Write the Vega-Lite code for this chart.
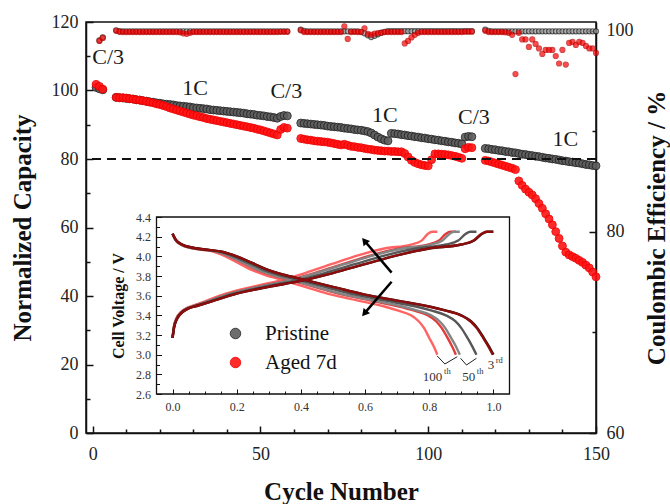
{
"$schema": "https://vega.github.io/schema/vega-lite/v6.json",
"width": 510, "height": 411,
"autosize": "none",
"padding": {"left": 86, "top": 22, "right": 74, "bottom": 71},
"config": {
 "font": "Liberation Serif",
 "view": {"stroke": "#111", "strokeWidth": 1.5},
 "axis": {"labelFont": "Liberation Serif", "titleFont": "Liberation Serif", "labelColor": "#222", "titleColor": "#111", "domainColor": "#111", "tickColor": "#111", "grid": false, "labelFlush": false, "labelOverlap": false}
},
"datasets": {
 "cap": [
{"c":1,"v":100.9,"s":"Pristine"},{"c":2,"v":100.5,"s":"Pristine"},{"c":3,"v":100.2,"s":"Pristine"},
{"c":7,"v":98.0,"s":"Pristine"},{"c":8,"v":97.9,"s":"Pristine"},{"c":9,"v":97.8,"s":"Pristine"},{"c":10,"v":97.7,"s":"Pristine"},{"c":11,"v":97.6,"s":"Pristine"},{"c":12,"v":97.5,"s":"Pristine"},{"c":13,"v":97.3,"s":"Pristine"},{"c":14,"v":97.2,"s":"Pristine"},{"c":15,"v":97.0,"s":"Pristine"},{"c":16,"v":96.9,"s":"Pristine"},{"c":17,"v":96.7,"s":"Pristine"},{"c":18,"v":96.6,"s":"Pristine"},{"c":19,"v":96.4,"s":"Pristine"},{"c":20,"v":96.3,"s":"Pristine"},{"c":21,"v":96.1,"s":"Pristine"},{"c":22,"v":96.0,"s":"Pristine"},{"c":23,"v":95.9,"s":"Pristine"},{"c":24,"v":95.8,"s":"Pristine"},{"c":25,"v":95.6,"s":"Pristine"},{"c":26,"v":95.5,"s":"Pristine"},{"c":27,"v":95.4,"s":"Pristine"},{"c":28,"v":95.3,"s":"Pristine"},{"c":29,"v":95.2,"s":"Pristine"},{"c":30,"v":95.0,"s":"Pristine"},{"c":31,"v":94.9,"s":"Pristine"},{"c":32,"v":94.8,"s":"Pristine"},{"c":33,"v":94.7,"s":"Pristine"},{"c":34,"v":94.6,"s":"Pristine"},{"c":35,"v":94.4,"s":"Pristine"},{"c":36,"v":94.3,"s":"Pristine"},{"c":37,"v":94.2,"s":"Pristine"},{"c":38,"v":94.1,"s":"Pristine"},{"c":39,"v":94.0,"s":"Pristine"},{"c":40,"v":93.9,"s":"Pristine"},{"c":41,"v":93.8,"s":"Pristine"},{"c":42,"v":93.7,"s":"Pristine"},{"c":43,"v":93.6,"s":"Pristine"},{"c":44,"v":93.5,"s":"Pristine"},{"c":45,"v":93.4,"s":"Pristine"},{"c":46,"v":93.2,"s":"Pristine"},{"c":47,"v":93.1,"s":"Pristine"},{"c":48,"v":93.0,"s":"Pristine"},{"c":49,"v":92.8,"s":"Pristine"},{"c":50,"v":92.7,"s":"Pristine"},{"c":51,"v":92.6,"s":"Pristine"},{"c":52,"v":92.4,"s":"Pristine"},{"c":53,"v":92.3,"s":"Pristine"},{"c":54,"v":92.1,"s":"Pristine"},{"c":55,"v":91.9,"s":"Pristine"},
{"c":56,"v":92.4,"s":"Pristine"},{"c":57,"v":92.7,"s":"Pristine"},{"c":58,"v":92.6,"s":"Pristine"},
{"c":62,"v":90.5,"s":"Pristine"},{"c":63,"v":90.4,"s":"Pristine"},{"c":64,"v":90.3,"s":"Pristine"},{"c":65,"v":90.2,"s":"Pristine"},{"c":66,"v":90.1,"s":"Pristine"},{"c":67,"v":90.0,"s":"Pristine"},{"c":68,"v":89.9,"s":"Pristine"},{"c":69,"v":89.8,"s":"Pristine"},{"c":70,"v":89.6,"s":"Pristine"},{"c":71,"v":89.5,"s":"Pristine"},{"c":72,"v":89.4,"s":"Pristine"},{"c":73,"v":89.3,"s":"Pristine"},{"c":74,"v":89.2,"s":"Pristine"},{"c":75,"v":89.0,"s":"Pristine"},{"c":76,"v":88.9,"s":"Pristine"},{"c":77,"v":88.8,"s":"Pristine"},{"c":78,"v":88.6,"s":"Pristine"},{"c":79,"v":88.5,"s":"Pristine"},{"c":80,"v":88.4,"s":"Pristine"},{"c":81,"v":88.2,"s":"Pristine"},{"c":82,"v":88.0,"s":"Pristine"},{"c":83,"v":87.6,"s":"Pristine"},{"c":84,"v":87.0,"s":"Pristine"},{"c":85,"v":86.4,"s":"Pristine"},{"c":86,"v":85.9,"s":"Pristine"},{"c":87,"v":85.5,"s":"Pristine"},{"c":88,"v":85.3,"s":"Pristine"},{"c":89,"v":87.5,"s":"Pristine"},{"c":90,"v":87.4,"s":"Pristine"},{"c":91,"v":87.3,"s":"Pristine"},{"c":92,"v":87.1,"s":"Pristine"},{"c":93,"v":87.0,"s":"Pristine"},{"c":94,"v":86.8,"s":"Pristine"},{"c":95,"v":86.7,"s":"Pristine"},{"c":96,"v":86.5,"s":"Pristine"},{"c":97,"v":86.4,"s":"Pristine"},{"c":98,"v":86.2,"s":"Pristine"},{"c":99,"v":86.1,"s":"Pristine"},{"c":100,"v":85.9,"s":"Pristine"},{"c":101,"v":85.8,"s":"Pristine"},{"c":102,"v":85.6,"s":"Pristine"},{"c":103,"v":85.5,"s":"Pristine"},{"c":104,"v":85.3,"s":"Pristine"},{"c":105,"v":85.2,"s":"Pristine"},{"c":106,"v":85.0,"s":"Pristine"},{"c":107,"v":84.9,"s":"Pristine"},{"c":108,"v":84.7,"s":"Pristine"},{"c":109,"v":84.6,"s":"Pristine"},{"c":110,"v":84.4,"s":"Pristine"},
{"c":111,"v":86.4,"s":"Pristine"},{"c":112,"v":86.6,"s":"Pristine"},{"c":113,"v":86.5,"s":"Pristine"},
{"c":117,"v":83.1,"s":"Pristine"},{"c":118,"v":83.0,"s":"Pristine"},{"c":119,"v":82.8,"s":"Pristine"},{"c":120,"v":82.7,"s":"Pristine"},{"c":121,"v":82.5,"s":"Pristine"},{"c":122,"v":82.4,"s":"Pristine"},{"c":123,"v":82.2,"s":"Pristine"},{"c":124,"v":82.1,"s":"Pristine"},{"c":125,"v":81.9,"s":"Pristine"},{"c":126,"v":81.8,"s":"Pristine"},{"c":127,"v":81.6,"s":"Pristine"},{"c":128,"v":81.4,"s":"Pristine"},{"c":129,"v":81.3,"s":"Pristine"},{"c":130,"v":81.1,"s":"Pristine"},{"c":131,"v":81.0,"s":"Pristine"},{"c":132,"v":80.8,"s":"Pristine"},{"c":133,"v":80.7,"s":"Pristine"},{"c":134,"v":80.5,"s":"Pristine"},{"c":135,"v":80.3,"s":"Pristine"},{"c":136,"v":80.2,"s":"Pristine"},{"c":137,"v":80.0,"s":"Pristine"},{"c":138,"v":79.9,"s":"Pristine"},{"c":139,"v":79.7,"s":"Pristine"},{"c":140,"v":79.5,"s":"Pristine"},{"c":141,"v":79.4,"s":"Pristine"},{"c":142,"v":79.2,"s":"Pristine"},{"c":143,"v":79.1,"s":"Pristine"},{"c":144,"v":78.9,"s":"Pristine"},{"c":145,"v":78.8,"s":"Pristine"},{"c":146,"v":78.6,"s":"Pristine"},{"c":147,"v":78.4,"s":"Pristine"},{"c":148,"v":78.3,"s":"Pristine"},{"c":149,"v":78.1,"s":"Pristine"},{"c":150,"v":78.0,"s":"Pristine"},
{"c":1,"v":101.8,"s":"Aged 7d"},{"c":2,"v":101.2,"s":"Aged 7d"},{"c":3,"v":100.4,"s":"Aged 7d"},
{"c":7,"v":98.0,"s":"Aged 7d"},{"c":8,"v":97.9,"s":"Aged 7d"},{"c":9,"v":97.9,"s":"Aged 7d"},{"c":10,"v":97.8,"s":"Aged 7d"},{"c":11,"v":97.6,"s":"Aged 7d"},{"c":12,"v":97.5,"s":"Aged 7d"},{"c":13,"v":97.3,"s":"Aged 7d"},{"c":14,"v":97.2,"s":"Aged 7d"},{"c":15,"v":97.0,"s":"Aged 7d"},{"c":16,"v":96.8,"s":"Aged 7d"},{"c":17,"v":96.6,"s":"Aged 7d"},{"c":18,"v":96.4,"s":"Aged 7d"},{"c":19,"v":96.1,"s":"Aged 7d"},{"c":20,"v":95.9,"s":"Aged 7d"},{"c":21,"v":95.6,"s":"Aged 7d"},{"c":22,"v":95.3,"s":"Aged 7d"},{"c":23,"v":94.9,"s":"Aged 7d"},{"c":24,"v":94.6,"s":"Aged 7d"},{"c":25,"v":94.3,"s":"Aged 7d"},{"c":26,"v":94.0,"s":"Aged 7d"},{"c":27,"v":93.7,"s":"Aged 7d"},{"c":28,"v":93.4,"s":"Aged 7d"},{"c":29,"v":93.1,"s":"Aged 7d"},{"c":30,"v":92.8,"s":"Aged 7d"},{"c":31,"v":92.6,"s":"Aged 7d"},{"c":32,"v":92.3,"s":"Aged 7d"},{"c":33,"v":92.1,"s":"Aged 7d"},{"c":34,"v":91.8,"s":"Aged 7d"},{"c":35,"v":91.6,"s":"Aged 7d"},{"c":36,"v":91.4,"s":"Aged 7d"},{"c":37,"v":91.2,"s":"Aged 7d"},{"c":38,"v":91.0,"s":"Aged 7d"},{"c":39,"v":90.8,"s":"Aged 7d"},{"c":40,"v":90.6,"s":"Aged 7d"},{"c":41,"v":90.4,"s":"Aged 7d"},{"c":42,"v":90.2,"s":"Aged 7d"},{"c":43,"v":90.0,"s":"Aged 7d"},{"c":44,"v":89.8,"s":"Aged 7d"},{"c":45,"v":89.6,"s":"Aged 7d"},{"c":46,"v":89.4,"s":"Aged 7d"},{"c":47,"v":89.2,"s":"Aged 7d"},{"c":48,"v":89.0,"s":"Aged 7d"},{"c":49,"v":88.7,"s":"Aged 7d"},{"c":50,"v":88.5,"s":"Aged 7d"},{"c":51,"v":88.2,"s":"Aged 7d"},{"c":52,"v":87.9,"s":"Aged 7d"},{"c":53,"v":87.6,"s":"Aged 7d"},{"c":54,"v":87.3,"s":"Aged 7d"},{"c":55,"v":87.0,"s":"Aged 7d"},
{"c":56,"v":88.6,"s":"Aged 7d"},{"c":57,"v":89.2,"s":"Aged 7d"},{"c":58,"v":89.0,"s":"Aged 7d"},
{"c":62,"v":86.0,"s":"Aged 7d"},{"c":63,"v":85.8,"s":"Aged 7d"},{"c":64,"v":85.6,"s":"Aged 7d"},{"c":65,"v":85.5,"s":"Aged 7d"},{"c":66,"v":85.3,"s":"Aged 7d"},{"c":67,"v":85.2,"s":"Aged 7d"},{"c":68,"v":85.1,"s":"Aged 7d"},{"c":69,"v":85.0,"s":"Aged 7d"},{"c":70,"v":84.9,"s":"Aged 7d"},{"c":71,"v":84.7,"s":"Aged 7d"},{"c":72,"v":84.5,"s":"Aged 7d"},{"c":73,"v":84.3,"s":"Aged 7d"},{"c":74,"v":84.1,"s":"Aged 7d"},{"c":75,"v":84.3,"s":"Aged 7d"},{"c":76,"v":84.0,"s":"Aged 7d"},{"c":77,"v":83.7,"s":"Aged 7d"},{"c":78,"v":83.6,"s":"Aged 7d"},{"c":79,"v":83.4,"s":"Aged 7d"},{"c":80,"v":83.3,"s":"Aged 7d"},{"c":81,"v":83.1,"s":"Aged 7d"},{"c":82,"v":82.9,"s":"Aged 7d"},{"c":83,"v":82.8,"s":"Aged 7d"},{"c":84,"v":82.6,"s":"Aged 7d"},{"c":85,"v":82.5,"s":"Aged 7d"},{"c":86,"v":82.4,"s":"Aged 7d"},{"c":87,"v":82.3,"s":"Aged 7d"},{"c":88,"v":82.3,"s":"Aged 7d"},{"c":89,"v":82.2,"s":"Aged 7d"},{"c":90,"v":82.2,"s":"Aged 7d"},{"c":91,"v":82.1,"s":"Aged 7d"},{"c":92,"v":82.1,"s":"Aged 7d"},{"c":93,"v":81.6,"s":"Aged 7d"},{"c":94,"v":80.6,"s":"Aged 7d"},{"c":95,"v":79.6,"s":"Aged 7d"},{"c":96,"v":79.0,"s":"Aged 7d"},{"c":97,"v":78.6,"s":"Aged 7d"},{"c":98,"v":78.3,"s":"Aged 7d"},{"c":99,"v":78.1,"s":"Aged 7d"},{"c":100,"v":78.0,"s":"Aged 7d"},{"c":101,"v":79.8,"s":"Aged 7d"},{"c":102,"v":81.5,"s":"Aged 7d"},{"c":103,"v":81.5,"s":"Aged 7d"},{"c":104,"v":81.4,"s":"Aged 7d"},{"c":105,"v":81.3,"s":"Aged 7d"},{"c":106,"v":81.2,"s":"Aged 7d"},{"c":107,"v":81.0,"s":"Aged 7d"},{"c":108,"v":80.8,"s":"Aged 7d"},{"c":109,"v":80.5,"s":"Aged 7d"},{"c":110,"v":80.2,"s":"Aged 7d"},
{"c":111,"v":83.0,"s":"Aged 7d"},{"c":112,"v":83.4,"s":"Aged 7d"},{"c":113,"v":83.3,"s":"Aged 7d"},
{"c":117,"v":79.6,"s":"Aged 7d"},{"c":118,"v":79.4,"s":"Aged 7d"},{"c":119,"v":79.1,"s":"Aged 7d"},{"c":120,"v":78.8,"s":"Aged 7d"},{"c":121,"v":78.5,"s":"Aged 7d"},{"c":122,"v":78.2,"s":"Aged 7d"},{"c":123,"v":77.9,"s":"Aged 7d"},{"c":124,"v":77.6,"s":"Aged 7d"},{"c":125,"v":77.3,"s":"Aged 7d"},{"c":126,"v":76.9,"s":"Aged 7d"},{"c":127,"v":73.6,"s":"Aged 7d"},{"c":128,"v":72.3,"s":"Aged 7d"},{"c":129,"v":71.2,"s":"Aged 7d"},{"c":130,"v":70.3,"s":"Aged 7d"},{"c":131,"v":69.5,"s":"Aged 7d"},{"c":132,"v":68.4,"s":"Aged 7d"},{"c":133,"v":67.0,"s":"Aged 7d"},{"c":134,"v":65.6,"s":"Aged 7d"},{"c":135,"v":64.0,"s":"Aged 7d"},{"c":136,"v":62.5,"s":"Aged 7d"},{"c":137,"v":60.8,"s":"Aged 7d"},{"c":138,"v":58.8,"s":"Aged 7d"},{"c":139,"v":56.8,"s":"Aged 7d"},{"c":140,"v":54.6,"s":"Aged 7d"},{"c":141,"v":52.8,"s":"Aged 7d"},{"c":142,"v":52.0,"s":"Aged 7d"},{"c":143,"v":51.5,"s":"Aged 7d"},{"c":144,"v":51.0,"s":"Aged 7d"},{"c":145,"v":50.4,"s":"Aged 7d"},{"c":146,"v":49.8,"s":"Aged 7d"},{"c":147,"v":49.0,"s":"Aged 7d"},{"c":148,"v":48.2,"s":"Aged 7d"},{"c":149,"v":47.0,"s":"Aged 7d"},{"c":150,"v":45.6,"s":"Aged 7d"}
 ],
 "ce": [
{"c":2,"e":99.05,"s":"Pristine"},{"c":3,"e":99.35,"s":"Pristine"},
{"c":7,"e":100.05,"s":"Pristine"},{"c":8,"e":99.97,"s":"Pristine"},{"c":9,"e":99.95,"s":"Pristine"},{"c":10,"e":99.95,"s":"Pristine"},{"c":11,"e":99.95,"s":"Pristine"},{"c":12,"e":99.95,"s":"Pristine"},{"c":13,"e":99.95,"s":"Pristine"},{"c":14,"e":99.95,"s":"Pristine"},{"c":15,"e":99.95,"s":"Pristine"},{"c":16,"e":99.95,"s":"Pristine"},{"c":17,"e":99.95,"s":"Pristine"},{"c":18,"e":99.95,"s":"Pristine"},{"c":19,"e":99.95,"s":"Pristine"},{"c":20,"e":99.95,"s":"Pristine"},{"c":21,"e":99.95,"s":"Pristine"},{"c":22,"e":99.95,"s":"Pristine"},{"c":23,"e":99.95,"s":"Pristine"},{"c":24,"e":99.95,"s":"Pristine"},{"c":25,"e":99.95,"s":"Pristine"},{"c":26,"e":99.95,"s":"Pristine"},{"c":27,"e":99.95,"s":"Pristine"},{"c":28,"e":99.95,"s":"Pristine"},{"c":29,"e":99.95,"s":"Pristine"},{"c":30,"e":99.95,"s":"Pristine"},{"c":31,"e":99.95,"s":"Pristine"},{"c":32,"e":99.95,"s":"Pristine"},{"c":33,"e":99.95,"s":"Pristine"},{"c":34,"e":99.95,"s":"Pristine"},{"c":35,"e":99.95,"s":"Pristine"},{"c":36,"e":99.95,"s":"Pristine"},{"c":37,"e":99.95,"s":"Pristine"},{"c":38,"e":99.95,"s":"Pristine"},{"c":39,"e":99.95,"s":"Pristine"},{"c":40,"e":99.95,"s":"Pristine"},{"c":41,"e":99.95,"s":"Pristine"},{"c":42,"e":99.95,"s":"Pristine"},{"c":43,"e":99.95,"s":"Pristine"},{"c":44,"e":99.95,"s":"Pristine"},{"c":45,"e":99.95,"s":"Pristine"},{"c":46,"e":99.95,"s":"Pristine"},{"c":47,"e":99.95,"s":"Pristine"},{"c":48,"e":99.95,"s":"Pristine"},{"c":49,"e":99.95,"s":"Pristine"},{"c":50,"e":99.95,"s":"Pristine"},{"c":51,"e":99.95,"s":"Pristine"},{"c":52,"e":99.95,"s":"Pristine"},{"c":53,"e":99.95,"s":"Pristine"},{"c":54,"e":99.95,"s":"Pristine"},{"c":55,"e":99.95,"s":"Pristine"},
{"c":56,"e":99.95,"s":"Pristine"},{"c":57,"e":99.95,"s":"Pristine"},{"c":58,"e":99.95,"s":"Pristine"},
{"c":62,"e":100.12,"s":"Pristine"},{"c":63,"e":100.0,"s":"Pristine"},{"c":64,"e":99.95,"s":"Pristine"},{"c":65,"e":99.95,"s":"Pristine"},{"c":66,"e":99.95,"s":"Pristine"},{"c":67,"e":99.95,"s":"Pristine"},{"c":68,"e":99.95,"s":"Pristine"},{"c":69,"e":99.95,"s":"Pristine"},{"c":70,"e":99.95,"s":"Pristine"},{"c":71,"e":99.95,"s":"Pristine"},{"c":72,"e":99.95,"s":"Pristine"},{"c":73,"e":99.95,"s":"Pristine"},{"c":74,"e":99.95,"s":"Pristine"},{"c":75,"e":99.95,"s":"Pristine"},{"c":76,"e":99.95,"s":"Pristine"},{"c":77,"e":99.95,"s":"Pristine"},{"c":78,"e":99.95,"s":"Pristine"},{"c":79,"e":99.95,"s":"Pristine"},{"c":80,"e":99.9,"s":"Pristine"},{"c":81,"e":99.75,"s":"Pristine"},{"c":82,"e":99.55,"s":"Pristine"},{"c":83,"e":99.38,"s":"Pristine"},{"c":84,"e":99.5,"s":"Pristine"},{"c":85,"e":99.65,"s":"Pristine"},{"c":86,"e":99.8,"s":"Pristine"},{"c":87,"e":99.9,"s":"Pristine"},{"c":88,"e":99.97,"s":"Pristine"},{"c":89,"e":99.97,"s":"Pristine"},{"c":90,"e":99.97,"s":"Pristine"},{"c":91,"e":99.97,"s":"Pristine"},{"c":92,"e":99.97,"s":"Pristine"},{"c":93,"e":99.97,"s":"Pristine"},{"c":94,"e":99.97,"s":"Pristine"},{"c":95,"e":99.97,"s":"Pristine"},{"c":96,"e":99.97,"s":"Pristine"},{"c":97,"e":99.97,"s":"Pristine"},{"c":98,"e":99.97,"s":"Pristine"},{"c":99,"e":99.97,"s":"Pristine"},{"c":100,"e":99.97,"s":"Pristine"},{"c":101,"e":99.97,"s":"Pristine"},{"c":102,"e":99.97,"s":"Pristine"},{"c":103,"e":99.97,"s":"Pristine"},{"c":104,"e":99.97,"s":"Pristine"},{"c":105,"e":99.97,"s":"Pristine"},{"c":106,"e":99.97,"s":"Pristine"},{"c":107,"e":99.97,"s":"Pristine"},{"c":108,"e":99.97,"s":"Pristine"},{"c":109,"e":99.97,"s":"Pristine"},{"c":110,"e":99.97,"s":"Pristine"},
{"c":111,"e":99.97,"s":"Pristine"},{"c":112,"e":99.97,"s":"Pristine"},{"c":113,"e":99.97,"s":"Pristine"},
{"c":117,"e":100.12,"s":"Pristine"},{"c":118,"e":100.0,"s":"Pristine"},{"c":119,"e":99.95,"s":"Pristine"},{"c":120,"e":99.95,"s":"Pristine"},{"c":121,"e":99.95,"s":"Pristine"},{"c":122,"e":99.95,"s":"Pristine"},{"c":123,"e":99.95,"s":"Pristine"},{"c":124,"e":99.95,"s":"Pristine"},{"c":125,"e":99.95,"s":"Pristine"},{"c":126,"e":99.95,"s":"Pristine"},{"c":127,"e":99.95,"s":"Pristine"},{"c":128,"e":99.95,"s":"Pristine"},{"c":129,"e":99.95,"s":"Pristine"},{"c":130,"e":99.95,"s":"Pristine"},{"c":131,"e":99.95,"s":"Pristine"},{"c":132,"e":99.95,"s":"Pristine"},{"c":133,"e":99.95,"s":"Pristine"},{"c":134,"e":99.95,"s":"Pristine"},{"c":135,"e":99.95,"s":"Pristine"},{"c":136,"e":99.95,"s":"Pristine"},{"c":137,"e":99.95,"s":"Pristine"},{"c":138,"e":99.95,"s":"Pristine"},{"c":139,"e":99.95,"s":"Pristine"},{"c":140,"e":99.95,"s":"Pristine"},{"c":141,"e":99.95,"s":"Pristine"},{"c":142,"e":99.95,"s":"Pristine"},{"c":143,"e":99.95,"s":"Pristine"},{"c":144,"e":99.95,"s":"Pristine"},{"c":145,"e":99.95,"s":"Pristine"},{"c":146,"e":99.95,"s":"Pristine"},{"c":147,"e":99.95,"s":"Pristine"},{"c":148,"e":99.95,"s":"Pristine"},{"c":149,"e":99.95,"s":"Pristine"},{"c":150,"e":99.95,"s":"Pristine"},
{"c":2,"e":99.0,"s":"Aged 7d"},{"c":3,"e":99.3,"s":"Aged 7d"},
{"c":7,"e":100.0,"s":"Aged 7d"},{"c":8,"e":99.9,"s":"Aged 7d"},{"c":9,"e":99.88,"s":"Aged 7d"},{"c":10,"e":99.88,"s":"Aged 7d"},{"c":11,"e":99.88,"s":"Aged 7d"},{"c":12,"e":99.88,"s":"Aged 7d"},{"c":13,"e":99.88,"s":"Aged 7d"},{"c":14,"e":99.88,"s":"Aged 7d"},{"c":15,"e":99.88,"s":"Aged 7d"},{"c":16,"e":99.88,"s":"Aged 7d"},{"c":17,"e":99.88,"s":"Aged 7d"},{"c":18,"e":99.88,"s":"Aged 7d"},{"c":19,"e":99.88,"s":"Aged 7d"},{"c":20,"e":99.88,"s":"Aged 7d"},{"c":21,"e":99.88,"s":"Aged 7d"},{"c":22,"e":99.88,"s":"Aged 7d"},{"c":23,"e":99.88,"s":"Aged 7d"},{"c":24,"e":99.88,"s":"Aged 7d"},{"c":25,"e":99.88,"s":"Aged 7d"},{"c":26,"e":99.85,"s":"Aged 7d"},{"c":27,"e":99.75,"s":"Aged 7d"},{"c":28,"e":99.7,"s":"Aged 7d"},{"c":29,"e":99.8,"s":"Aged 7d"},{"c":30,"e":99.88,"s":"Aged 7d"},{"c":31,"e":99.88,"s":"Aged 7d"},{"c":32,"e":99.88,"s":"Aged 7d"},{"c":33,"e":99.88,"s":"Aged 7d"},{"c":34,"e":99.88,"s":"Aged 7d"},{"c":35,"e":99.88,"s":"Aged 7d"},{"c":36,"e":99.88,"s":"Aged 7d"},{"c":37,"e":99.88,"s":"Aged 7d"},{"c":38,"e":99.88,"s":"Aged 7d"},{"c":39,"e":99.88,"s":"Aged 7d"},{"c":40,"e":99.88,"s":"Aged 7d"},{"c":41,"e":99.88,"s":"Aged 7d"},{"c":42,"e":99.88,"s":"Aged 7d"},{"c":43,"e":99.88,"s":"Aged 7d"},{"c":44,"e":99.88,"s":"Aged 7d"},{"c":45,"e":99.88,"s":"Aged 7d"},{"c":46,"e":99.88,"s":"Aged 7d"},{"c":47,"e":99.88,"s":"Aged 7d"},{"c":48,"e":99.88,"s":"Aged 7d"},{"c":49,"e":99.88,"s":"Aged 7d"},{"c":50,"e":99.88,"s":"Aged 7d"},{"c":51,"e":99.88,"s":"Aged 7d"},{"c":52,"e":99.88,"s":"Aged 7d"},{"c":53,"e":99.88,"s":"Aged 7d"},{"c":54,"e":99.88,"s":"Aged 7d"},{"c":55,"e":99.88,"s":"Aged 7d"},
{"c":56,"e":99.9,"s":"Aged 7d"},{"c":57,"e":99.9,"s":"Aged 7d"},{"c":58,"e":99.9,"s":"Aged 7d"},
{"c":62,"e":100.05,"s":"Aged 7d"},{"c":63,"e":99.88,"s":"Aged 7d"},{"c":64,"e":99.88,"s":"Aged 7d"},{"c":65,"e":99.88,"s":"Aged 7d"},{"c":66,"e":99.88,"s":"Aged 7d"},{"c":67,"e":99.88,"s":"Aged 7d"},{"c":68,"e":99.88,"s":"Aged 7d"},{"c":69,"e":99.88,"s":"Aged 7d"},{"c":70,"e":99.88,"s":"Aged 7d"},{"c":71,"e":99.88,"s":"Aged 7d"},{"c":72,"e":99.88,"s":"Aged 7d"},{"c":73,"e":99.88,"s":"Aged 7d"},{"c":74,"e":99.88,"s":"Aged 7d"},{"c":75,"e":100.45,"s":"Aged 7d"},{"c":76,"e":99.2,"s":"Aged 7d"},{"c":77,"e":99.88,"s":"Aged 7d"},{"c":78,"e":99.9,"s":"Aged 7d"},{"c":79,"e":99.88,"s":"Aged 7d"},{"c":80,"e":99.88,"s":"Aged 7d"},{"c":81,"e":100.25,"s":"Aged 7d"},{"c":82,"e":99.7,"s":"Aged 7d"},{"c":83,"e":99.6,"s":"Aged 7d"},{"c":84,"e":99.72,"s":"Aged 7d"},{"c":85,"e":99.78,"s":"Aged 7d"},{"c":86,"e":99.82,"s":"Aged 7d"},{"c":87,"e":99.88,"s":"Aged 7d"},{"c":88,"e":99.88,"s":"Aged 7d"},{"c":89,"e":99.88,"s":"Aged 7d"},{"c":90,"e":99.88,"s":"Aged 7d"},{"c":91,"e":99.88,"s":"Aged 7d"},{"c":92,"e":99.88,"s":"Aged 7d"},{"c":93,"e":98.75,"s":"Aged 7d"},{"c":94,"e":99.0,"s":"Aged 7d"},{"c":95,"e":99.35,"s":"Aged 7d"},{"c":96,"e":99.6,"s":"Aged 7d"},{"c":97,"e":99.8,"s":"Aged 7d"},{"c":98,"e":99.88,"s":"Aged 7d"},{"c":99,"e":99.88,"s":"Aged 7d"},{"c":100,"e":99.88,"s":"Aged 7d"},{"c":101,"e":99.88,"s":"Aged 7d"},{"c":102,"e":99.88,"s":"Aged 7d"},{"c":103,"e":99.88,"s":"Aged 7d"},{"c":104,"e":99.88,"s":"Aged 7d"},{"c":105,"e":99.88,"s":"Aged 7d"},{"c":106,"e":99.88,"s":"Aged 7d"},{"c":107,"e":99.88,"s":"Aged 7d"},{"c":108,"e":99.88,"s":"Aged 7d"},{"c":109,"e":99.88,"s":"Aged 7d"},{"c":110,"e":99.88,"s":"Aged 7d"},
{"c":111,"e":99.92,"s":"Aged 7d"},{"c":112,"e":99.92,"s":"Aged 7d"},{"c":113,"e":99.92,"s":"Aged 7d"},
{"c":117,"e":100.0,"s":"Aged 7d"},{"c":118,"e":99.88,"s":"Aged 7d"},{"c":119,"e":99.88,"s":"Aged 7d"},{"c":120,"e":99.88,"s":"Aged 7d"},{"c":121,"e":99.88,"s":"Aged 7d"},{"c":122,"e":99.88,"s":"Aged 7d"},{"c":123,"e":99.85,"s":"Aged 7d"},{"c":124,"e":99.8,"s":"Aged 7d"},{"c":125,"e":99.6,"s":"Aged 7d"},{"c":126,"e":95.7,"s":"Aged 7d"},{"c":127,"e":99.8,"s":"Aged 7d"},{"c":128,"e":99.15,"s":"Aged 7d"},{"c":129,"e":99.15,"s":"Aged 7d"},{"c":130,"e":98.4,"s":"Aged 7d"},{"c":131,"e":99.15,"s":"Aged 7d"},{"c":132,"e":98.7,"s":"Aged 7d"},{"c":133,"e":98.25,"s":"Aged 7d"},{"c":134,"e":97.7,"s":"Aged 7d"},{"c":135,"e":98.1,"s":"Aged 7d"},{"c":136,"e":98.1,"s":"Aged 7d"},{"c":137,"e":98.1,"s":"Aged 7d"},{"c":138,"e":97.5,"s":"Aged 7d"},{"c":139,"e":96.75,"s":"Aged 7d"},{"c":140,"e":98.1,"s":"Aged 7d"},{"c":141,"e":96.65,"s":"Aged 7d"},{"c":142,"e":98.8,"s":"Aged 7d"},{"c":143,"e":98.9,"s":"Aged 7d"},{"c":144,"e":98.6,"s":"Aged 7d"},{"c":145,"e":98.9,"s":"Aged 7d"},{"c":146,"e":98.8,"s":"Aged 7d"},{"c":147,"e":98.5,"s":"Aged 7d"},{"c":148,"e":98.25,"s":"Aged 7d"},{"c":149,"e":98.25,"s":"Aged 7d"},{"c":150,"e":97.8,"s":"Aged 7d"}
 ],
 "notes": [
{"t":"C/3","c":4.6,"v":109.9},{"t":"1C","c":30.5,"v":100.8},{"t":"C/3","c":57.7,"v":100.0},{"t":"1C","c":87.1,"v":92.9},{"t":"C/3","c":113.6,"v":92.2},{"t":"1C","c":140.9,"v":85.8}
 ],
 "curves": [
{"k":"A100","m":"d","q":0,"v":4.23},{"k":"A100","m":"d","q":0.008,"v":4.17},{"k":"A100","m":"d","q":0.025,"v":4.12},{"k":"A100","m":"d","q":0.05,"v":4.09},{"k":"A100","m":"d","q":0.083,"v":4.07},{"k":"A100","m":"d","q":0.124,"v":4.05},{"k":"A100","m":"d","q":0.165,"v":4.0},{"k":"A100","m":"d","q":0.206,"v":3.93},{"k":"A100","m":"d","q":0.248,"v":3.86},{"k":"A100","m":"d","q":0.289,"v":3.81},{"k":"A100","m":"d","q":0.33,"v":3.77},{"k":"A100","m":"d","q":0.413,"v":3.69},{"k":"A100","m":"d","q":0.495,"v":3.61},{"k":"A100","m":"d","q":0.578,"v":3.55},{"k":"A100","m":"d","q":0.66,"v":3.49},{"k":"A100","m":"d","q":0.701,"v":3.45},{"k":"A100","m":"d","q":0.743,"v":3.4},{"k":"A100","m":"d","q":0.767,"v":3.34},{"k":"A100","m":"d","q":0.784,"v":3.27},{"k":"A100","m":"d","q":0.8,"v":3.17},{"k":"A100","m":"d","q":0.813,"v":3.09},{"k":"A100","m":"d","q":0.825,"v":3.0},
{"k":"A100","m":"c","q":0,"v":3.17},{"k":"A100","m":"c","q":0.004,"v":3.28},{"k":"A100","m":"c","q":0.012,"v":3.37},{"k":"A100","m":"c","q":0.025,"v":3.43},{"k":"A100","m":"c","q":0.041,"v":3.47},{"k":"A100","m":"c","q":0.066,"v":3.5},{"k":"A100","m":"c","q":0.099,"v":3.54},{"k":"A100","m":"c","q":0.165,"v":3.62},{"k":"A100","m":"c","q":0.248,"v":3.69},{"k":"A100","m":"c","q":0.33,"v":3.75},{"k":"A100","m":"c","q":0.413,"v":3.83},{"k":"A100","m":"c","q":0.495,"v":3.92},{"k":"A100","m":"c","q":0.578,"v":4.01},{"k":"A100","m":"c","q":0.66,"v":4.08},{"k":"A100","m":"c","q":0.743,"v":4.12},{"k":"A100","m":"c","q":0.776,"v":4.16},{"k":"A100","m":"c","q":0.796,"v":4.23},{"k":"A100","m":"c","q":0.809,"v":4.25},{"k":"A100","m":"c","q":0.825,"v":4.25},
{"k":"P100","m":"d","q":0,"v":4.23},{"k":"P100","m":"d","q":0.009,"v":4.17},{"k":"P100","m":"d","q":0.026,"v":4.12},{"k":"P100","m":"d","q":0.053,"v":4.09},{"k":"P100","m":"d","q":0.088,"v":4.07},{"k":"P100","m":"d","q":0.132,"v":4.05},{"k":"P100","m":"d","q":0.177,"v":4.0},{"k":"P100","m":"d","q":0.221,"v":3.93},{"k":"P100","m":"d","q":0.265,"v":3.86},{"k":"P100","m":"d","q":0.309,"v":3.81},{"k":"P100","m":"d","q":0.353,"v":3.77},{"k":"P100","m":"d","q":0.442,"v":3.69},{"k":"P100","m":"d","q":0.53,"v":3.61},{"k":"P100","m":"d","q":0.618,"v":3.55},{"k":"P100","m":"d","q":0.706,"v":3.49},{"k":"P100","m":"d","q":0.751,"v":3.45},{"k":"P100","m":"d","q":0.795,"v":3.4},{"k":"P100","m":"d","q":0.821,"v":3.34},{"k":"P100","m":"d","q":0.839,"v":3.27},{"k":"P100","m":"d","q":0.857,"v":3.17},{"k":"P100","m":"d","q":0.87,"v":3.09},{"k":"P100","m":"d","q":0.883,"v":3.0},
{"k":"P100","m":"c","q":0,"v":3.17},{"k":"P100","m":"c","q":0.004,"v":3.28},{"k":"P100","m":"c","q":0.013,"v":3.37},{"k":"P100","m":"c","q":0.026,"v":3.43},{"k":"P100","m":"c","q":0.044,"v":3.47},{"k":"P100","m":"c","q":0.071,"v":3.5},{"k":"P100","m":"c","q":0.106,"v":3.54},{"k":"P100","m":"c","q":0.177,"v":3.62},{"k":"P100","m":"c","q":0.265,"v":3.69},{"k":"P100","m":"c","q":0.353,"v":3.75},{"k":"P100","m":"c","q":0.442,"v":3.83},{"k":"P100","m":"c","q":0.53,"v":3.92},{"k":"P100","m":"c","q":0.618,"v":4.01},{"k":"P100","m":"c","q":0.706,"v":4.08},{"k":"P100","m":"c","q":0.795,"v":4.12},{"k":"P100","m":"c","q":0.83,"v":4.16},{"k":"P100","m":"c","q":0.852,"v":4.23},{"k":"P100","m":"c","q":0.865,"v":4.25},{"k":"P100","m":"c","q":0.883,"v":4.25},
{"k":"A50","m":"d","q":0,"v":4.23},{"k":"A50","m":"d","q":0.009,"v":4.17},{"k":"A50","m":"d","q":0.027,"v":4.12},{"k":"A50","m":"d","q":0.054,"v":4.09},{"k":"A50","m":"d","q":0.09,"v":4.07},{"k":"A50","m":"d","q":0.134,"v":4.05},{"k":"A50","m":"d","q":0.179,"v":4.0},{"k":"A50","m":"d","q":0.224,"v":3.93},{"k":"A50","m":"d","q":0.269,"v":3.86},{"k":"A50","m":"d","q":0.313,"v":3.81},{"k":"A50","m":"d","q":0.358,"v":3.77},{"k":"A50","m":"d","q":0.448,"v":3.69},{"k":"A50","m":"d","q":0.537,"v":3.61},{"k":"A50","m":"d","q":0.627,"v":3.55},{"k":"A50","m":"d","q":0.716,"v":3.49},{"k":"A50","m":"d","q":0.761,"v":3.45},{"k":"A50","m":"d","q":0.806,"v":3.4},{"k":"A50","m":"d","q":0.832,"v":3.34},{"k":"A50","m":"d","q":0.85,"v":3.27},{"k":"A50","m":"d","q":0.868,"v":3.17},{"k":"A50","m":"d","q":0.882,"v":3.09},{"k":"A50","m":"d","q":0.895,"v":3.0},
{"k":"A50","m":"c","q":0,"v":3.17},{"k":"A50","m":"c","q":0.004,"v":3.28},{"k":"A50","m":"c","q":0.013,"v":3.37},{"k":"A50","m":"c","q":0.027,"v":3.43},{"k":"A50","m":"c","q":0.045,"v":3.47},{"k":"A50","m":"c","q":0.072,"v":3.5},{"k":"A50","m":"c","q":0.107,"v":3.54},{"k":"A50","m":"c","q":0.179,"v":3.62},{"k":"A50","m":"c","q":0.269,"v":3.69},{"k":"A50","m":"c","q":0.358,"v":3.75},{"k":"A50","m":"c","q":0.448,"v":3.83},{"k":"A50","m":"c","q":0.537,"v":3.92},{"k":"A50","m":"c","q":0.627,"v":4.01},{"k":"A50","m":"c","q":0.716,"v":4.08},{"k":"A50","m":"c","q":0.806,"v":4.12},{"k":"A50","m":"c","q":0.841,"v":4.16},{"k":"A50","m":"c","q":0.864,"v":4.23},{"k":"A50","m":"c","q":0.877,"v":4.25},{"k":"A50","m":"c","q":0.895,"v":4.25},
{"k":"P50","m":"d","q":0,"v":4.23},{"k":"P50","m":"d","q":0.009,"v":4.17},{"k":"P50","m":"d","q":0.028,"v":4.12},{"k":"P50","m":"d","q":0.057,"v":4.09},{"k":"P50","m":"d","q":0.095,"v":4.07},{"k":"P50","m":"d","q":0.142,"v":4.05},{"k":"P50","m":"d","q":0.189,"v":4.0},{"k":"P50","m":"d","q":0.237,"v":3.93},{"k":"P50","m":"d","q":0.284,"v":3.86},{"k":"P50","m":"d","q":0.331,"v":3.81},{"k":"P50","m":"d","q":0.379,"v":3.77},{"k":"P50","m":"d","q":0.474,"v":3.69},{"k":"P50","m":"d","q":0.568,"v":3.61},{"k":"P50","m":"d","q":0.663,"v":3.55},{"k":"P50","m":"d","q":0.758,"v":3.49},{"k":"P50","m":"d","q":0.805,"v":3.45},{"k":"P50","m":"d","q":0.852,"v":3.4},{"k":"P50","m":"d","q":0.881,"v":3.34},{"k":"P50","m":"d","q":0.9,"v":3.27},{"k":"P50","m":"d","q":0.919,"v":3.17},{"k":"P50","m":"d","q":0.933,"v":3.09},{"k":"P50","m":"d","q":0.947,"v":3.0},
{"k":"P50","m":"c","q":0,"v":3.17},{"k":"P50","m":"c","q":0.005,"v":3.28},{"k":"P50","m":"c","q":0.014,"v":3.37},{"k":"P50","m":"c","q":0.028,"v":3.43},{"k":"P50","m":"c","q":0.047,"v":3.47},{"k":"P50","m":"c","q":0.076,"v":3.5},{"k":"P50","m":"c","q":0.114,"v":3.54},{"k":"P50","m":"c","q":0.189,"v":3.62},{"k":"P50","m":"c","q":0.284,"v":3.69},{"k":"P50","m":"c","q":0.379,"v":3.75},{"k":"P50","m":"c","q":0.474,"v":3.83},{"k":"P50","m":"c","q":0.568,"v":3.92},{"k":"P50","m":"c","q":0.663,"v":4.01},{"k":"P50","m":"c","q":0.758,"v":4.08},{"k":"P50","m":"c","q":0.852,"v":4.12},{"k":"P50","m":"c","q":0.89,"v":4.16},{"k":"P50","m":"c","q":0.914,"v":4.23},{"k":"P50","m":"c","q":0.928,"v":4.25},{"k":"P50","m":"c","q":0.947,"v":4.25},
{"k":"P3","m":"d","q":0,"v":4.23},{"k":"P3","m":"d","q":0.01,"v":4.17},{"k":"P3","m":"d","q":0.03,"v":4.12},{"k":"P3","m":"d","q":0.06,"v":4.09},{"k":"P3","m":"d","q":0.1,"v":4.07},{"k":"P3","m":"d","q":0.15,"v":4.05},{"k":"P3","m":"d","q":0.2,"v":4.0},{"k":"P3","m":"d","q":0.25,"v":3.93},{"k":"P3","m":"d","q":0.3,"v":3.86},{"k":"P3","m":"d","q":0.35,"v":3.81},{"k":"P3","m":"d","q":0.4,"v":3.77},{"k":"P3","m":"d","q":0.5,"v":3.69},{"k":"P3","m":"d","q":0.6,"v":3.61},{"k":"P3","m":"d","q":0.7,"v":3.55},{"k":"P3","m":"d","q":0.8,"v":3.49},{"k":"P3","m":"d","q":0.85,"v":3.45},{"k":"P3","m":"d","q":0.9,"v":3.4},{"k":"P3","m":"d","q":0.93,"v":3.34},{"k":"P3","m":"d","q":0.95,"v":3.27},{"k":"P3","m":"d","q":0.97,"v":3.17},{"k":"P3","m":"d","q":0.985,"v":3.09},{"k":"P3","m":"d","q":1.0,"v":3.0},
{"k":"P3","m":"c","q":0,"v":3.17},{"k":"P3","m":"c","q":0.005,"v":3.28},{"k":"P3","m":"c","q":0.015,"v":3.37},{"k":"P3","m":"c","q":0.03,"v":3.43},{"k":"P3","m":"c","q":0.05,"v":3.47},{"k":"P3","m":"c","q":0.08,"v":3.5},{"k":"P3","m":"c","q":0.12,"v":3.54},{"k":"P3","m":"c","q":0.2,"v":3.62},{"k":"P3","m":"c","q":0.3,"v":3.69},{"k":"P3","m":"c","q":0.4,"v":3.75},{"k":"P3","m":"c","q":0.5,"v":3.83},{"k":"P3","m":"c","q":0.6,"v":3.92},{"k":"P3","m":"c","q":0.7,"v":4.01},{"k":"P3","m":"c","q":0.8,"v":4.08},{"k":"P3","m":"c","q":0.9,"v":4.12},{"k":"P3","m":"c","q":0.94,"v":4.16},{"k":"P3","m":"c","q":0.965,"v":4.23},{"k":"P3","m":"c","q":0.98,"v":4.25},{"k":"P3","m":"c","q":1.0,"v":4.25},
{"k":"A3","m":"d","q":0,"v":4.23},{"k":"A3","m":"d","q":0.01,"v":4.17},{"k":"A3","m":"d","q":0.03,"v":4.12},{"k":"A3","m":"d","q":0.06,"v":4.09},{"k":"A3","m":"d","q":0.1,"v":4.07},{"k":"A3","m":"d","q":0.15,"v":4.05},{"k":"A3","m":"d","q":0.2,"v":4.0},{"k":"A3","m":"d","q":0.25,"v":3.93},{"k":"A3","m":"d","q":0.299,"v":3.86},{"k":"A3","m":"d","q":0.349,"v":3.81},{"k":"A3","m":"d","q":0.399,"v":3.77},{"k":"A3","m":"d","q":0.499,"v":3.69},{"k":"A3","m":"d","q":0.599,"v":3.61},{"k":"A3","m":"d","q":0.699,"v":3.55},{"k":"A3","m":"d","q":0.798,"v":3.49},{"k":"A3","m":"d","q":0.848,"v":3.45},{"k":"A3","m":"d","q":0.898,"v":3.4},{"k":"A3","m":"d","q":0.928,"v":3.34},{"k":"A3","m":"d","q":0.948,"v":3.27},{"k":"A3","m":"d","q":0.968,"v":3.17},{"k":"A3","m":"d","q":0.983,"v":3.09},{"k":"A3","m":"d","q":0.998,"v":3.0},
{"k":"A3","m":"c","q":0,"v":3.17},{"k":"A3","m":"c","q":0.005,"v":3.28},{"k":"A3","m":"c","q":0.015,"v":3.37},{"k":"A3","m":"c","q":0.03,"v":3.43},{"k":"A3","m":"c","q":0.05,"v":3.47},{"k":"A3","m":"c","q":0.08,"v":3.5},{"k":"A3","m":"c","q":0.12,"v":3.54},{"k":"A3","m":"c","q":0.2,"v":3.62},{"k":"A3","m":"c","q":0.299,"v":3.69},{"k":"A3","m":"c","q":0.399,"v":3.75},{"k":"A3","m":"c","q":0.499,"v":3.83},{"k":"A3","m":"c","q":0.599,"v":3.92},{"k":"A3","m":"c","q":0.699,"v":4.01},{"k":"A3","m":"c","q":0.798,"v":4.08},{"k":"A3","m":"c","q":0.898,"v":4.12},{"k":"A3","m":"c","q":0.938,"v":4.16},{"k":"A3","m":"c","q":0.963,"v":4.23},{"k":"A3","m":"c","q":0.978,"v":4.25},{"k":"A3","m":"c","q":0.998,"v":4.25}
 ],
 "bigArrows": [
{"q1":0.6826,"v1":3.834,"q2":0.6,"v2":4.151},{"q1":0.6826,"v1":3.742,"q2":0.6,"v2":3.427}
 ],
 "smallArrows": [
{"q1":0.8486,"v1":2.905,"q2":0.8246,"v2":2.987},{"q1":0.8486,"v1":2.905,"q2":0.887,"v2":2.979},
{"q1":0.916,"v1":2.895,"q2":0.8975,"v2":2.963},{"q1":0.916,"v1":2.895,"q2":0.947,"v2":2.963}
 ],
 "insetBase": [
{"t":"100","q":0.81,"v":2.77},{"t":"50","q":0.923,"v":2.77},{"t":"3","q":0.992,"v":2.89}
 ],
 "insetSup": [
{"t":"th","q":0.846,"v":2.83},{"t":"th","q":0.948,"v":2.83},{"t":"rd","q":1.007,"v":2.95}
 ]
},
"layer": [
 {
  "layer": [
   {
    "data": {"name": "cap"},
    "mark": {"type": "point", "filled": true, "size": 62, "strokeWidth": 1, "opacity": 0.9},
    "encoding": {
     "x": {"field": "c", "type": "quantitative", "scale": {"domain": [-2, 150], "nice": false, "zero": false},
      "axis": {"orient": "bottom", "values": [0,10,20,30,40,50,60,70,80,90,100,110,120,130,140,150], "tickCount": 200,
       "labelExpr": "datum.value % 50 == 0 ? format(datum.value, 'd') : ''", "labelOverlap": false,
       "tickSize": {"condition": {"test": "datum.value % 50 == 0", "value": -7}, "value": -4},
       "tickWidth": 1.5, "domainWidth": 1.5, "labelFontSize": 18, "labelPadding": 19,
       "title": "Cycle Number", "titleFontSize": 25, "titleFontWeight": "bold", "titleY": 58, "titleBaseline": "middle"}},
     "y": {"field": "v", "type": "quantitative", "scale": {"domain": [0, 120], "nice": false, "zero": false},
      "axis": {"orient": "left", "values": [0,10,20,30,40,50,60,70,80,90,100,110,120], "tickCount": 200,
       "labelExpr": "datum.value % 20 == 0 ? format(datum.value, 'd') : ''", "labelOverlap": false,
       "tickSize": {"condition": {"test": "datum.value % 20 == 0", "value": -7}, "value": -4},
       "tickWidth": 1.5, "domainWidth": 1.5, "labelFontSize": 18, "labelPadding": 15,
       "title": "Normalized Capacity", "titleFontSize": 25, "titleFontWeight": "bold", "titleAngle": 270, "titleX": -64, "titleBaseline": "middle", "titleAlign": "center"}},
     "color": {"field": "s", "type": "nominal", "scale": {"domain": ["Pristine", "Aged 7d"], "range": ["#5e5e5e", "#ff1414"]},
      "legend": {"orient": "none", "legendX": 139, "legendY": 301, "title": null, "labelFont": "Liberation Serif", "labelFontSize": 21, "labelColor": "#111", "symbolSize": 110, "symbolType": "circle", "labelOffset": 19, "rowPadding": 7, "padding": 0, "symbolStrokeWidth": 1, "symbolOpacity": 0.9}},
     "stroke": {"field": "s", "type": "nominal", "scale": {"domain": ["Pristine", "Aged 7d"], "range": ["#262626", "#f00000"]}, "legend": null}
    }
   },
   {
    "data": {"values": [{}]},
    "mark": {"type": "rule", "strokeDash": [9, 6], "strokeWidth": 2, "color": "#111"},
    "encoding": {"y": {"datum": 80, "type": "quantitative"}}
   },
   {
    "data": {"name": "notes"},
    "mark": {"type": "text", "fontSize": 22, "font": "Liberation Serif", "color": "#1a1a1a", "baseline": "middle", "align": "center"},
    "encoding": {"x": {"field": "c", "type": "quantitative"}, "y": {"field": "v", "type": "quantitative"}, "text": {"field": "t"}}
   }
  ]
 },
 {
  "data": {"name": "ce"},
  "mark": {"type": "point", "filled": true, "size": 26, "strokeWidth": 1.1},
  "encoding": {
   "x": {"field": "c", "type": "quantitative", "scale": {"domain": [-2, 150], "nice": false, "zero": false}, "axis": null},
   "y": {"field": "e", "type": "quantitative", "scale": {"domain": [60, 100.88], "nice": false, "zero": false},
    "axis": {"orient": "right", "values": [60, 70, 80, 90, 100], "tickCount": 200,
     "labelExpr": "datum.value % 20 == 0 ? format(datum.value, 'd') : ''", "labelOverlap": false,
     "tickSize": {"condition": {"test": "datum.value % 20 == 0", "value": -7}, "value": -4},
     "tickWidth": 1.5, "domainWidth": 1.5, "labelFontSize": 18, "labelPadding": 17,
     "title": "Coulombic Efficiency / %", "titleFontSize": 25, "titleFontWeight": "bold", "titleAngle": 270, "titleX": 60, "titleBaseline": "middle", "titleAlign": "center"}},
   "color": {"field": "s", "type": "nominal", "scale": {"domain": ["Pristine", "Aged 7d"], "range": ["#a8a8a8", "#ff0000"]}, "legend": null},
   "stroke": {"field": "s", "type": "nominal", "scale": {"domain": ["Pristine", "Aged 7d"], "range": ["#1e1e1e", "#c00000"]}, "legend": null}
  }
 },
 {
  "layer": [
   {
    "data": {"name": "curves"},
    "mark": {"type": "line", "strokeWidth": 2.4, "interpolate": "monotone"},
    "encoding": {
     "x": {"field": "q", "type": "quantitative", "scale": {"domain": [-0.05, 1.05], "range": [70.5, 423.5], "nice": false, "zero": false},
      "axis": {"orient": "bottom", "offset": -39, "values": [0,0.05,0.1,0.15,0.2,0.25,0.3,0.35,0.4,0.45,0.5,0.55,0.6,0.65,0.7,0.75,0.8,0.85,0.9,0.95,1.0], "tickCount": 200,
       "labelExpr": "abs(datum.value*5-round(datum.value*5))<0.001 ? format(datum.value,'.1f') : ''", "labelOverlap": false,
       "tickSize": {"condition": {"test": "abs(datum.value*5-round(datum.value*5))<0.001", "value": -5}, "value": -3},
       "domain": false, "tickWidth": 1, "labelFontSize": 12, "labelPadding": 12, "labelColor": "#333", "title": null}},
     "y": {"field": "v", "type": "quantitative", "scale": {"domain": [2.6, 4.4], "range": [372, 195], "nice": false, "zero": false},
      "axis": {"orient": "left", "offset": -70.5, "values": [2.6,2.7,2.8,2.9,3.0,3.1,3.2,3.3,3.4,3.5,3.6,3.7,3.8,3.9,4.0,4.1,4.2,4.3,4.4], "tickCount": 200,
       "labelExpr": "round(datum.value*10)%2==0 ? format(datum.value,'.1f') : ''", "labelOverlap": false,
       "tickSize": {"condition": {"test": "round(datum.value*10)%2==0", "value": -5}, "value": -3},
       "domain": false, "tickWidth": 1, "labelFontSize": 12, "labelPadding": 11, "labelColor": "#333",
       "title": "Cell Voltage / V", "titleFontSize": 16, "titleFontWeight": "bold", "titleAngle": 270, "titleX": -38, "titleBaseline": "middle", "titleAlign": "center"}},
     "color": {"field": "k", "type": "nominal", "scale": {"domain": ["A100", "P100", "A50", "P50", "P3", "A3"], "range": ["#ff6464", "#e33a3a", "#858585", "#575757", "#1a1a1a", "#8e0c0c"]}, "legend": null},
     "detail": [{"field": "k"}, {"field": "m"}]
    }
   },
   {
    "data": {"values": [{}]},
    "mark": {"type": "rect", "fillOpacity": 0, "stroke": "#111", "strokeWidth": 1.3},
    "encoding": {"x": {"datum": -0.05}, "x2": {"datum": 1.05}, "y": {"datum": 2.6}, "y2": {"datum": 4.4}}
   },
   {
    "data": {"name": "bigArrows"},
    "mark": {"type": "rule", "strokeWidth": 2.5, "color": "#000"},
    "encoding": {"x": {"field": "q1", "type": "quantitative"}, "y": {"field": "v1", "type": "quantitative"}, "x2": {"field": "q2"}, "y2": {"field": "v2"}}
   },
   {
    "data": {"values": [{}]},
    "mark": {"type": "point", "shape": "triangle-up", "filled": true, "size": 70, "angle": 320, "color": "#000", "opacity": 1},
    "encoding": {"x": {"datum": 0.598}, "y": {"datum": 4.158}}
   },
   {
    "data": {"values": [{}]},
    "mark": {"type": "point", "shape": "triangle-up", "filled": true, "size": 70, "angle": 220, "color": "#000", "opacity": 1},
    "encoding": {"x": {"datum": 0.598}, "y": {"datum": 3.42}}
   },
   {
    "data": {"name": "smallArrows"},
    "mark": {"type": "rule", "strokeWidth": 1, "color": "#222"},
    "encoding": {"x": {"field": "q1", "type": "quantitative"}, "y": {"field": "v1", "type": "quantitative"}, "x2": {"field": "q2"}, "y2": {"field": "v2"}}
   },
   {
    "data": {"name": "insetBase"},
    "mark": {"type": "text", "fontSize": 13, "font": "Liberation Serif", "color": "#333", "align": "center", "baseline": "middle"},
    "encoding": {"x": {"field": "q", "type": "quantitative"}, "y": {"field": "v", "type": "quantitative"}, "text": {"field": "t"}}
   },
   {
    "data": {"name": "insetSup"},
    "mark": {"type": "text", "fontSize": 8.5, "font": "Liberation Serif", "color": "#333", "align": "left", "baseline": "middle"},
    "encoding": {"x": {"field": "q", "type": "quantitative"}, "y": {"field": "v", "type": "quantitative"}, "text": {"field": "t"}}
   }
  ]
 }
],
"resolve": {"scale": {"x": "independent", "y": "independent", "color": "independent", "stroke": "independent"}, "axis": {"x": "independent", "y": "independent"}}
}
